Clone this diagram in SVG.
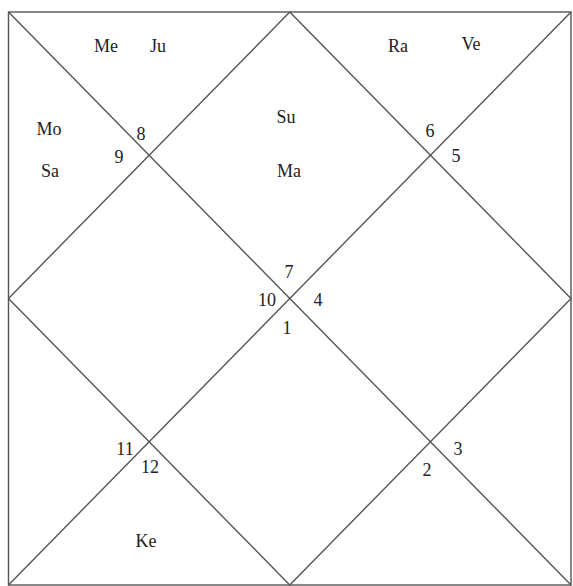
<svg xmlns="http://www.w3.org/2000/svg" width="573" height="586" viewBox="0 0 573 586">
<style>
.ln{stroke:#555;stroke-width:1.4;fill:none}
text{font-family:"Liberation Serif","Times New Roman",serif;font-size:18px;fill:#222;text-anchor:middle}
</style>
<rect width="573" height="586" fill="#fff"/>
<g id="connectors">
<rect class="ln" x="8.5" y="12" width="562.5" height="573"/>
<line class="ln" x1="8.5" y1="12" x2="571" y2="585"/>
<line class="ln" x1="571" y1="12" x2="8.5" y2="585"/>
<polygon class="ln" points="289.75,12 571,298.5 289.75,585 8.5,298.5"/>
</g>
<g id="h1"><text x="287" y="334">1</text></g>
<g id="h2"><text x="427" y="476">2</text></g>
<g id="h3"><text x="458" y="455">3</text></g>
<g id="h4"><text x="318" y="306">4</text></g>
<g id="h5"><text x="456" y="162">5</text></g>
<g id="h6"><text x="430" y="137">6</text></g>
<g id="h7"><text x="289" y="278">7</text></g>
<g id="h8"><text x="141" y="140">8</text></g>
<g id="h9"><text x="119" y="163">9</text></g>
<g id="h10"><text x="267" y="306">10</text></g>
<g id="h11"><text x="125" y="455">11</text></g>
<g id="h12"><text x="150" y="473">12</text></g>
<g id="p-me"><text x="106" y="52">Me</text></g>
<g id="p-ju"><text x="158" y="52">Ju</text></g>
<g id="p-ra"><text x="398" y="52">Ra</text></g>
<g id="p-ve"><text x="471" y="50">Ve</text></g>
<g id="p-mo"><text x="49" y="135">Mo</text></g>
<g id="p-sa"><text x="50" y="177">Sa</text></g>
<g id="p-su"><text x="286" y="123">Su</text></g>
<g id="p-ma"><text x="289" y="177">Ma</text></g>
<g id="p-ke"><text x="146" y="547">Ke</text></g>
</svg>
